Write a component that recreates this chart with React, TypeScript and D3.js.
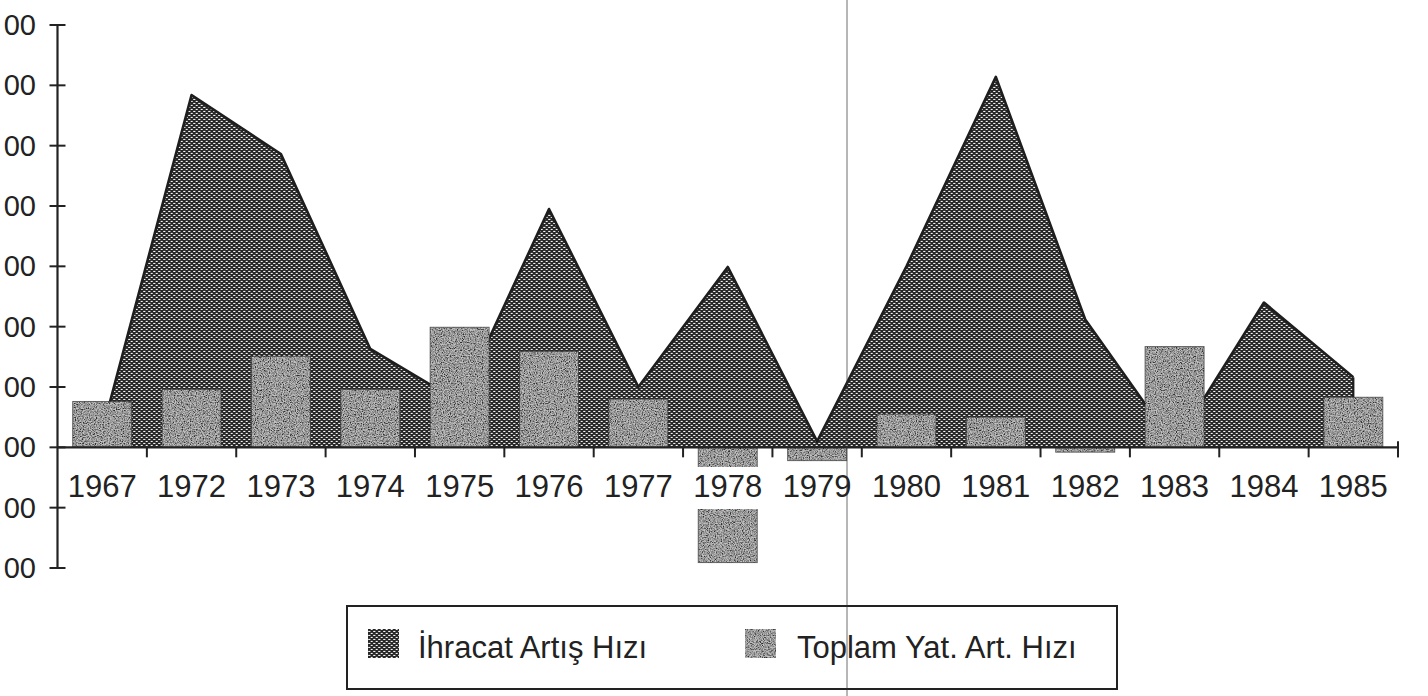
import React from 'react';
import * as d3 from 'd3';

const years = ['1967','1972','1973','1974','1975','1976','1977','1978','1979','1980','1981','1982','1983','1984','1985'];
const ihracat = [2.7, 58.4, 48.6, 16.3, 7.5, 39.5, 10.0, 29.9, 1.0, 30.0, 61.4, 21.2, 0.3, 24.0, 11.6];
const toplam = [7.6, 9.6, 15.1, 9.6, 19.9, 15.9, 8.0, -19.1, -2.2, 5.5, 5.0, -0.8, 16.7, 0, 8.3];
const yTicks = [-20, -10, 0, 10, 20, 30, 40, 50, 60, 70];
const seriesNames = ['İhracat Artış Hızı', 'Toplam Yat. Art. Hızı'];

const W = 1428;
const H = 696;
const FONT = '"Liberation Sans", Arial, Helvetica, sans-serif';

export default function App() {
  const x = d3.scaleBand<string>().domain(years).range([57.5, 1398]).padding(0);
  const y = d3.scaleLinear().domain([-20, 70]).range([568, 25]);
  const bw = x.bandwidth() * 0.66;
  const cx = (i: number) => (x(years[i]) as number) + x.bandwidth() / 2;

  const area = d3
    .area<number>()
    .x((_, i) => cx(i))
    .y0(y(0))
    .y1((d) => y(d));
  const line = d3
    .line<number>()
    .x((_, i) => cx(i))
    .y((d) => y(d));

  const x0 = x.range()[0];
  const x1 = x.range()[1];
  // only the trailing digits of the tick labels are visible in the scan
  const fmt = (v: number) => `${v},00`.slice(-2);

  return (
    <svg width={W} height={H} style={{ position: 'absolute', left: 0, top: 0, background: '#fff' }}>
      <defs>
        <pattern id="dots" width="5" height="4" patternUnits="userSpaceOnUse">
          <rect width="5" height="4" fill="#262626" />
          <rect x="0.7" y="0.9" width="2.0" height="1.1" fill="#f2f2f2" />
          <rect x="3.2" y="2.9" width="1.8" height="1.1" fill="#f2f2f2" />
          <rect x="0" y="2.9" width="0.4" height="1.1" fill="#f2f2f2" />
        </pattern>
        <filter id="mottle" x="0" y="0" width="100%" height="100%">
          <feTurbulence type="fractalNoise" baseFrequency="0.85" numOctaves="2" seed="3" result="n" />
          <feColorMatrix in="n" type="matrix"
            values="0 0 0 0 0  0 0 0 0 0  0 0 0 0 0  0 0 0 -2.2 1.55" result="a" />
          <feFlood floodColor="#2e2e2e" result="f" />
          <feComposite in="f" in2="a" operator="in" result="dk" />
          <feFlood floodColor="#c4c4c4" result="bg" />
          <feMerge>
            <feMergeNode in="bg" />
            <feMergeNode in="dk" />
          </feMerge>
          <feComposite in2="SourceAlpha" operator="in" />
        </filter>
      </defs>

      {/* area series */}
      <path d={area(ihracat) || ''} fill="url(#dots)" />
      <path d={line(ihracat) || ''} fill="none" stroke="#1e1e1e" strokeWidth={2.6} strokeLinejoin="round" />
      <line x1={cx(ihracat.length - 1)} x2={cx(ihracat.length - 1)} y1={y(ihracat[ihracat.length - 1])} y2={y(0)} stroke="#1e1e1e" strokeWidth={2.2} />

      {/* bars */}
      {toplam.map((v, i) => {
        if (v === 0) return null;
        const top = Math.min(y(v), y(0));
        const h = Math.abs(y(v) - y(0));
        return (
          <g key={years[i]}>
            <rect x={cx(i) - bw / 2} y={top} width={bw} height={h} fill="#999" filter="url(#mottle)" />
            <rect x={cx(i) - bw / 2} y={top} width={bw} height={h} fill="none" stroke="#333" strokeWidth={1} opacity={0.7} />
          </g>
        );
      })}

      {/* category labels with opaque background */}
      {years.map((yr) => (
        <g key={'l' + yr}>
          <rect x={x(yr) as number} y={467} width={x.bandwidth()} height={42} fill="#fff" />
          <text x={(x(yr) as number) + x.bandwidth() / 2} y={497} textAnchor="middle" fontFamily={FONT} fontSize={31} fill="#222">
            {yr}
          </text>
        </g>
      ))}

      {/* x axis */}
      <line x1={x0} x2={x1} y1={y(0)} y2={y(0)} stroke="#222" strokeWidth={2.2} />
      {years.map((yr) => (
        <line key={'t' + yr} x1={(x(yr) as number) + x.bandwidth()} x2={(x(yr) as number) + x.bandwidth()}
          y1={y(0)} y2={y(0) + 10} stroke="#222" strokeWidth={2} />
      ))}
      <line x1={x1} x2={x1} y1={y(0) - 6} y2={y(0) + 10} stroke="#222" strokeWidth={2} />

      {/* y axis */}
      <line x1={x0} x2={x0} y1={y(70)} y2={y(-20)} stroke="#222" strokeWidth={2.2} />
      {yTicks.map((t) => (
        <line key={'yt' + t} x1={x0 - 8} x2={x0 + 8} y1={y(t)} y2={y(t)} stroke="#222" strokeWidth={2} />
      ))}
      {yTicks.map((t) => (
        <text key={'yl' + t} x={36} y={y(t) + 10} textAnchor="end" fontFamily={FONT} fontSize={29} fill="#222">
          {fmt(t)}
        </text>
      ))}

      {/* legend */}
      <rect x={347} y={606} width={770} height={83} fill="none" stroke="#222" strokeWidth={2} />
      <rect x={368} y={629} width={31} height={29} fill="url(#dots)" />
      <text x={418} y={658} fontFamily={FONT} fontSize={31} fill="#222">{seriesNames[0]}</text>
      <rect x={745} y={629} width={31} height={29} fill="#999" filter="url(#mottle)" />
      <text x={797} y={658} fontFamily={FONT} fontSize={31} fill="#222">{seriesNames[1]}</text>

      {/* scan fold line */}
      <line x1={847} x2={847} y1={0} y2={H} stroke="#333" strokeWidth={1} opacity={0.7} />
    </svg>
  );
}
